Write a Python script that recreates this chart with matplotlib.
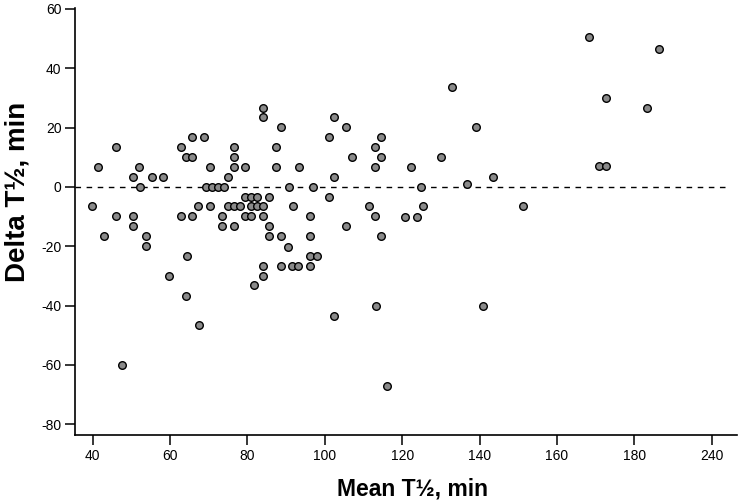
import matplotlib.pyplot as plt

# Bland-Altman style scatter: mean vs difference of half-life (minutes)
mean_t_half = [
    168.4, 186.3, 133.0, 172.6, 84.0, 183.3, 84.0, 102.3,
    88.6, 105.4, 139.0, 65.6, 68.8, 101.0, 114.6,
    45.9, 62.7, 76.5, 87.3, 113.0,
    64.2, 65.6, 76.5, 107.0, 114.6, 129.9,
    41.4, 52.0, 70.2, 76.5, 79.4, 87.3, 93.3, 113.0, 122.2, 171.0, 172.7,
    50.5, 55.2, 58.2, 74.9, 102.3, 143.6, 136.8,
    52.3, 69.3, 70.7, 72.4, 73.8, 90.8, 97.0, 124.8,
    79.4, 80.9, 82.4, 85.5, 101.0,
    39.7, 67.2, 70.2, 74.9, 76.4, 78.0, 80.9, 82.4, 84.0, 91.7, 111.5,
    125.3, 151.2,
    45.9, 50.5, 62.7, 65.6, 73.3, 79.4, 80.9, 84.0, 96.1, 113.0, 120.8,
    123.8,
    50.5, 73.3, 76.4, 85.6, 105.4,
    42.8, 53.7, 85.6, 88.6, 96.1, 114.6,
    53.7, 90.4,
    64.3, 96.1, 97.9,
    84.0, 88.6, 91.6, 93.1, 96.1,
    59.6, 84.0, 81.6, 64.2, 113.2, 140.8, 102.3, 67.4, 47.6, 116.0,
]

delta_t_half = [
    50.5, 46.6, 33.6, 30.0, 26.7, 26.6, 23.5, 23.5,
    20.2, 20.2, 20.2, 16.7, 16.7, 16.8, 16.8,
    13.5, 13.5, 13.5, 13.5, 13.5,
    10.1, 10.1, 10.1, 10.1, 10.1, 10.1,
    6.7, 6.7, 6.7, 6.7, 6.7, 6.7, 6.7, 6.7, 6.6, 6.9, 6.9,
    3.4, 3.4, 3.4, 3.4, 3.4, 3.4, 1.1,
    0.0, 0.0, 0.0, 0.0, 0.0, 0.0, 0.0, 0.0,
    -3.3, -3.3, -3.3, -3.3, -3.3,
    -6.5, -6.5, -6.5, -6.5, -6.5, -6.5, -6.5, -6.5, -6.5, -6.5, -6.5,
    -6.5, -6.5,
    -9.9, -9.9, -9.9, -9.9, -9.9, -9.9, -9.9, -9.9, -9.9, -9.9, -10.1,
    -10.1,
    -13.2, -13.2, -13.2, -13.2, -13.2,
    -16.6, -16.6, -16.6, -16.6, -16.6, -16.6,
    -20.0, -20.1,
    -23.3, -23.3, -23.3,
    -26.7, -26.7, -26.7, -26.7, -26.7,
    -30.1, -30.1, -33.2, -36.7, -40.1, -40.2, -43.4, -46.7, -60.1, -67.0,
]

x_ticks = [40, 60, 80, 100, 120, 140, 160, 180, 200]
x_tick_labels = ["40", "60", "80", "100", "120", "140", "160", "180", "240"]
y_ticks = [-80, -60, -40, -20, 0, 20, 40, 60]


def main() -> None:
    plt.rcParams["font.family"] = ["Liberation Sans", "DejaVu Sans"]
    plt.rcParams["axes.unicode_minus"] = False

    figure = plt.figure(figsize=(7.39, 5.04), dpi=100)
    axis = figure.add_axes([0.102, 0.137, 0.895, 0.847])

    axis.hlines(
        0,
        35.5,
        204,
        colors="black",
        linestyles=(0, (4, 4)),
        linewidth=1.0,
        zorder=1,
    )

    axis.scatter(
        mean_t_half,
        delta_t_half,
        s=30,
        facecolor="#8a8a8a",
        edgecolor="black",
        linewidth=1.0,
        zorder=3,
        clip_on=False,
    )

    axis.set_xlim(35.5, 206.5)
    axis.set_ylim(-83.6, 60.3)

    axis.set_xticks(x_ticks)
    axis.set_xticklabels(x_tick_labels)
    axis.set_yticks(y_ticks)

    for side in ["top", "right"]:
        axis.spines[side].set_visible(False)
    for side in ["left", "bottom"]:
        axis.spines[side].set_linewidth(1.2)

    axis.tick_params(
        direction="out",
        length=7,
        width=1.1,
        labelsize=10,
        pad=3,
    )

    axis.set_xlabel(
        "Mean T\u00bd, min",
        fontsize=16.5,
        fontweight="bold",
    )
    axis.xaxis.set_label_coords(0.51, -0.1)

    axis.set_ylabel(
        "Delta T\u00bd, min",
        fontsize=20,
        fontweight="bold",
    )
    axis.yaxis.set_label_coords(-0.068, 0.569)

    figure.savefig("out.png", dpi=100)
    plt.close(figure)


if __name__ == "__main__":
    main()
